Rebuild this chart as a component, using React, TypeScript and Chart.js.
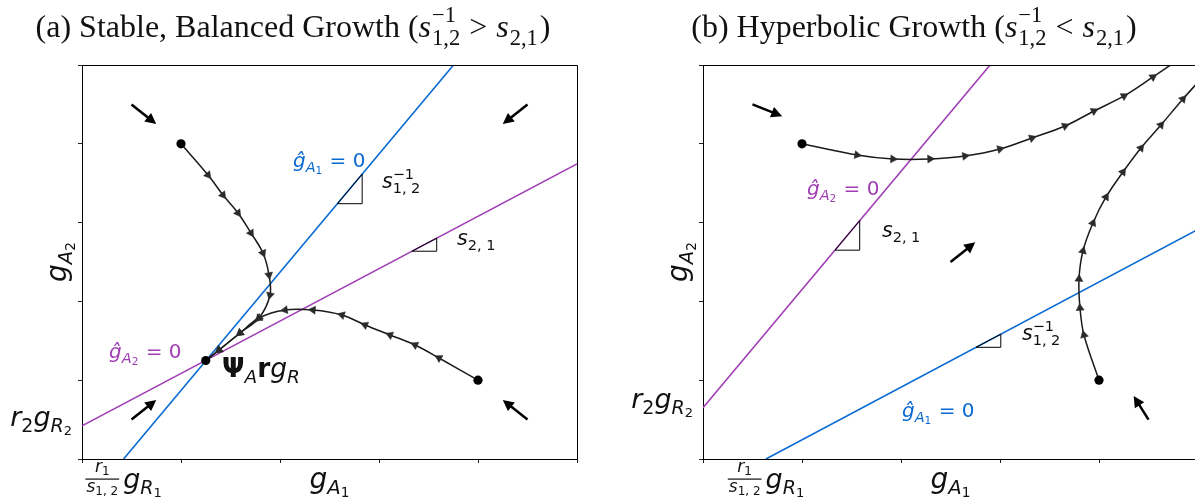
import React, { useEffect, useRef } from 'react';
import { Chart, registerables } from 'chart.js';
Chart.register(...registerables);

// ---------- axis ----------
const AXIS_MIN = 0;
const AXIS_MAX = 5;
const TICK_STEP = 1;

// ---------- panel (a) data ----------
const A_BLUE_X = [0.42, 3.753];
const A_BLUE_Y = [0, 5];
const A_PURPLE_X = [0, 5];
const A_PURPLE_Y = [0.42, 3.745];
const A_TRI_BLUE_X = [2.58, 2.83];
const A_TRI_BLUE_Y = [3.24, 3.615];
const A_TRI_PURPLE_X = [3.333, 3.583];
const A_TRI_PURPLE_Y = [2.637, 2.803];
const A_T1_X = [1.0, 1.273, 1.424, 1.576, 1.707, 1.828, 1.889, 1.899, 1.788, 1.596, 1.384, 1.25];
const A_T1_Y = [4.0, 3.604, 3.35, 3.122, 2.868, 2.614, 2.335, 2.081, 1.789, 1.599, 1.383, 1.25];
const A_T2_X = [4.0, 3.606, 3.364, 3.111, 2.859, 2.626, 2.333, 2.051, 1.788, 1.596, 1.384, 1.25];
const A_T2_Y = [1.0, 1.282, 1.447, 1.574, 1.701, 1.827, 1.891, 1.891, 1.789, 1.599, 1.383, 1.25];
const A_DOT_X = [1, 4, 1.25];
const A_DOT_Y = [4, 1, 1.25];
const A_ARROW_TAIL_X = [0.5, 4.5, 4.5, 0.5];
const A_ARROW_TAIL_Y = [4.5, 4.5, 0.5, 0.5];
const A_ARROW_HEAD_X = [0.75, 4.25, 4.25, 0.75];
const A_ARROW_HEAD_Y = [4.25, 4.25, 0.75, 0.75];

// ---------- panel (b) data ----------
const B_BLUE_X = [0.636, 5.1];
const B_BLUE_Y = [0, 2.982];
const B_PURPLE_X = [0, 2.9];
const B_PURPLE_Y = [0.65, 5.0];
const B_TRI_BLUE_X = [2.758, 3.008];
const B_TRI_BLUE_Y = [1.4175, 1.5845];
const B_TRI_PURPLE_X = [1.333, 1.583];
const B_TRI_PURPLE_Y = [2.65, 3.025];
const B_T1_X = [1.0, 1.556, 1.919, 2.293, 2.646, 3.0, 3.323, 3.657, 3.949, 4.253, 4.545, 4.92];
const B_T1_Y = [4.0, 3.858, 3.807, 3.807, 3.845, 3.934, 4.074, 4.226, 4.416, 4.607, 4.848, 5.17];
const B_T2_X = [4.0, 3.848, 3.808, 3.798, 3.838, 3.939, 4.071, 4.242, 4.424, 4.626, 4.848, 5.05];
const B_T2_Y = [1.0, 1.574, 1.916, 2.284, 2.64, 2.995, 3.325, 3.642, 3.947, 4.239, 4.569, 4.85];
const B_DOT_X = [1, 4];
const B_DOT_Y = [4, 1];
const B_ARROW_TAIL_X = [0.5, 2.5, 4.5];
const B_ARROW_TAIL_Y = [4.5, 2.5, 0.5];
const B_ARROW_HEAD_X = [0.8, 2.75, 4.35];
const B_ARROW_HEAD_Y = [4.35, 2.75, 0.8];

// ---------- styles ----------
const BLUE = '#0a6ad3';
const PURPLE = '#a03eb4';
const INK = '#111111';
const SANS = '"DejaVu Sans"';
const SERIF = '"Liberation Serif"';
const it = (s: number) => `italic ${s}px ${SANS}`;
const rm = (s: number) => `${s}px ${SANS}`;
const bf = (s: number) => `bold ${s}px ${SANS}`;
const sr = (s: number) => `${s}px ${SERIF}`;
const si = (s: number) => `italic ${s}px ${SERIF}`;

type Run = { t: string; f: string; dy?: number; hold?: boolean; gap?: number };

function layoutRuns(ctx: CanvasRenderingContext2D, runs: Run[]) {
  let cx = 0;
  let holdW = -1;
  const xs: number[] = [];
  for (const r of runs) {
    ctx.font = r.f;
    const w = ctx.measureText(r.t).width;
    xs.push(cx);
    if (r.hold) {
      holdW = w;
    } else {
      cx += Math.max(w, holdW >= 0 ? holdW : 0) + (r.gap || 0);
      holdW = -1;
    }
  }
  if (holdW >= 0) cx += holdW;
  return { xs, w: cx };
}

function drawRuns(ctx: CanvasRenderingContext2D, runs: Run[], x: number, y: number, align: string, color: string) {
  const { xs, w } = layoutRuns(ctx, runs);
  const x0 = align === 'center' ? x - w / 2 : align === 'right' ? x - w : x;
  ctx.fillStyle = color;
  ctx.textBaseline = 'alphabetic';
  ctx.textAlign = 'left';
  runs.forEach((r, i) => {
    ctx.font = r.f;
    ctx.fillText(r.t, x0 + xs[i], y + (r.dy || 0));
  });
  return w;
}

const pts = (xs: number[], ys: number[]) => xs.map((x, i) => ({ x, y: ys[i] }));

const gA = (idx: string): Run[] => [
  { t: 'g', f: it(28) },
  { t: 'A', f: it(19.6), dy: 6 },
  { t: idx, f: rm(13.7), dy: 9 },
];
const hatG = (idx: string): Run[] => [
  { t: 'ĝ', f: it(20) },
  { t: 'A', f: it(14.5), dy: 5 },
  { t: idx, f: rm(10.5), dy: 7, gap: 1 },
  { t: ' = 0', f: rm(20) },
];
const sInv: Run[] = [
  { t: 's', f: it(20.5) },
  { t: '−1', f: rm(14.5), dy: -9, hold: true },
  { t: '1, 2', f: rm(14.5), dy: 5 },
];
const s21: Run[] = [
  { t: 's', f: it(20.5) },
  { t: '2, 1', f: rm(14.5), dy: 5 },
];
const psiRun: Run[] = [
  { t: 'Ψ', f: bf(26.5) },
  { t: 'A', f: it(18.5), dy: 6 },
  { t: 'r', f: bf(26.5) },
  { t: 'g', f: it(26.5) },
  { t: 'R', f: it(18.5), dy: 6 },
];
const r2Run: Run[] = [
  { t: 'r', f: it(27) },
  { t: '2', f: rm(19), dy: 6 },
  { t: 'g', f: it(27) },
  { t: 'R', f: it(19), dy: 6 },
  { t: '2', f: rm(13), dy: 9 },
];
const titleRun = (head: string, rel: string): Run[] => [
  { t: head + ' (', f: sr(32) },
  { t: 's', f: si(32), gap: 1 },
  { t: '−1', f: sr(22.5), dy: -15, hold: true },
  { t: '1,2', f: sr(22.5), dy: 8, gap: 9 },
  { t: rel, f: sr(32), gap: 9 },
  { t: 's', f: si(32), gap: 1 },
  { t: '2,1', f: sr(22.5), dy: 8, gap: 2 },
  { t: ')', f: sr(32) },
];

function drawFrac(ctx: CanvasRenderingContext2D, cx: number, bottom: number) {
  const num: Run[] = [{ t: 'r', f: it(17) }, { t: '1', f: rm(12), dy: 3 }];
  const den: Run[] = [{ t: 's', f: it(17) }, { t: '1, 2', f: rm(12), dy: 3 }];
  const gl: Run[] = [{ t: 'g', f: it(27) }, { t: 'R', f: it(19), dy: 6 }, { t: '1', f: rm(13), dy: 9 }];
  const wn = layoutRuns(ctx, num).w;
  const wd = layoutRuns(ctx, den).w;
  const wg = layoutRuns(ctx, gl).w;
  const wb = Math.max(wn, wd) + 2;
  const total = wb + 4 + wg;
  const x0 = cx - total / 2;
  drawRuns(ctx, num, x0 + wb / 2, bottom + 13, 'center', INK);
  ctx.fillStyle = INK;
  ctx.fillRect(x0, bottom + 19.5, wb, 1.2);
  drawRuns(ctx, den, x0 + wb / 2, bottom + 33, 'center', INK);
  drawRuns(ctx, gl, x0 + wb + 4, bottom + 29, 'left', INK);
}

function drawArrow(ctx: CanvasRenderingContext2D, x1: number, y1: number, x2: number, y2: number) {
  const ang = Math.atan2(y2 - y1, x2 - x1);
  const hl = 11;
  const hw = 5.5;
  const bx = x2 - Math.cos(ang) * hl;
  const by = y2 - Math.sin(ang) * hl;
  ctx.strokeStyle = '#000';
  ctx.fillStyle = '#000';
  ctx.lineWidth = 2.5;
  ctx.beginPath();
  ctx.moveTo(x1, y1);
  ctx.lineTo(bx + Math.cos(ang) * 2, by + Math.sin(ang) * 2);
  ctx.stroke();
  ctx.beginPath();
  ctx.moveTo(x2, y2);
  ctx.lineTo(bx - Math.sin(ang) * hw, by + Math.cos(ang) * hw);
  ctx.lineTo(bx + Math.sin(ang) * hw, by - Math.cos(ang) * hw);
  ctx.closePath();
  ctx.fill();
}

type Label = { x: number; y: number; runs: Run[]; color: string };

type Spec = {
  lines: { x: number[]; y: number[]; color: string }[];
  tris: { x: number[]; y: number[] }[];
  trajs: { x: number[]; y: number[] }[];
  dots: { x: number[]; y: number[] };
  arrows: { tx: number[]; ty: number[]; hx: number[]; hy: number[] };
  labels: Label[];
  title: Run[];
  titleX: number;
  yLabelAt: number;
  fracAt: number;
  axisLeft: number;
  padRight: number;
};

const SPEC_A: Spec = {
  lines: [
    { x: A_BLUE_X, y: A_BLUE_Y, color: BLUE },
    { x: A_PURPLE_X, y: A_PURPLE_Y, color: PURPLE },
  ],
  tris: [
    { x: A_TRI_BLUE_X, y: A_TRI_BLUE_Y },
    { x: A_TRI_PURPLE_X, y: A_TRI_PURPLE_Y },
  ],
  trajs: [
    { x: A_T1_X, y: A_T1_Y },
    { x: A_T2_X, y: A_T2_Y },
  ],
  dots: { x: A_DOT_X, y: A_DOT_Y },
  arrows: { tx: A_ARROW_TAIL_X, ty: A_ARROW_TAIL_Y, hx: A_ARROW_HEAD_X, hy: A_ARROW_HEAD_Y },
  labels: [
    { x: 2.131, y: 3.706, runs: hatG('1'), color: BLUE },
    { x: 3.03, y: 3.439, runs: sInv, color: INK },
    { x: 3.788, y: 2.716, runs: s21, color: INK },
    { x: 0.273, y: 1.28, runs: hatG('2'), color: PURPLE },
    { x: 1.414, y: 1.04, runs: psiRun, color: INK },
  ],
  title: titleRun('(a) Stable, Balanced Growth', '>'),
  titleX: 293,
  yLabelAt: A_PURPLE_Y[0],
  fracAt: A_BLUE_X[0],
  axisLeft: 82,
  padRight: 23,
};

const SPEC_B: Spec = {
  lines: [
    { x: B_BLUE_X, y: B_BLUE_Y, color: BLUE },
    { x: B_PURPLE_X, y: B_PURPLE_Y, color: PURPLE },
  ],
  tris: [
    { x: B_TRI_BLUE_X, y: B_TRI_BLUE_Y },
    { x: B_TRI_PURPLE_X, y: B_TRI_PURPLE_Y },
  ],
  trajs: [
    { x: B_T1_X, y: B_T1_Y },
    { x: B_T2_X, y: B_T2_Y },
  ],
  dots: { x: B_DOT_X, y: B_DOT_Y },
  arrows: { tx: B_ARROW_TAIL_X, ty: B_ARROW_TAIL_Y, hx: B_ARROW_HEAD_X, hy: B_ARROW_HEAD_Y },
  labels: [
    { x: 1.05, y: 3.35, runs: hatG('2'), color: PURPLE },
    { x: 1.808, y: 2.817, runs: s21, color: INK },
    { x: 3.222, y: 1.51, runs: sInv, color: INK },
    { x: 2.01, y: 0.533, runs: hatG('1'), color: BLUE },
  ],
  title: titleRun('(b) Hyperbolic Growth', '<'),
  titleX: 314,
  yLabelAt: B_PURPLE_Y[0],
  fracAt: B_BLUE_X[0],
  axisLeft: 103,
  padRight: 22,
};

function rotationFor(traj: { x: number; y: number }[]) {
  return (c: any) => {
    if (c.dataIndex == null) return 0;
    const i = c.dataIndex + 1;
    const sx = c.chart.scales.x;
    const sy = c.chart.scales.y;
    const a = traj[i - 1];
    const b = traj[i + 1];
    const dx = sx.getPixelForValue(b.x) - sx.getPixelForValue(a.x);
    const dy = sy.getPixelForValue(b.y) - sy.getPixelForValue(a.y);
    return (Math.atan2(dy, dx) * 180) / Math.PI + 90;
  };
}

function buildConfig(spec: Spec): any {
  const datasets: any[] = [];
  spec.lines.forEach((l) => {
    datasets.push({
      data: pts(l.x, l.y), showLine: true, borderColor: l.color, borderWidth: 1.6,
      pointRadius: 0, tension: 0, order: 6,
    });
  });
  spec.tris.forEach((t) => {
    datasets.push({
      data: [
        { x: t.x[0], y: t.y[0] }, { x: t.x[1], y: t.y[0] },
        { x: t.x[1], y: t.y[1] }, { x: t.x[0], y: t.y[0] },
      ],
      showLine: true, borderColor: '#000', borderWidth: 1, pointRadius: 0, tension: 0, order: 5,
    });
  });
  spec.trajs.forEach((tr) => {
    const p = pts(tr.x, tr.y);
    datasets.push({
      data: p, showLine: true, borderColor: '#1a1a1a', borderWidth: 1.5, pointRadius: 0,
      tension: 0.35, order: 3,
    });
    datasets.push({
      data: p.slice(1, -1), showLine: false, pointStyle: 'triangle', pointRadius: 4.6,
      pointBackgroundColor: '#2a2a2a', pointBorderColor: '#2a2a2a', pointBorderWidth: 0.5,
      pointRotation: rotationFor(p), order: 2,
    });
  });
  datasets.push({
    data: pts(spec.dots.x, spec.dots.y), showLine: false, pointStyle: 'circle', pointRadius: 4.6,
    pointBackgroundColor: '#000', pointBorderColor: '#000', pointBorderWidth: 0, order: 1,
  });

  const panelPlugin = {
    id: 'panelDecor',
    afterDatasetsDraw(chart: any) {
      const ctx = chart.ctx as CanvasRenderingContext2D;
      const sx = chart.scales.x;
      const sy = chart.scales.y;
      const a = spec.arrows;
      ctx.save();
      a.tx.forEach((_, i) => {
        drawArrow(ctx, sx.getPixelForValue(a.tx[i]), sy.getPixelForValue(a.ty[i]),
          sx.getPixelForValue(a.hx[i]), sy.getPixelForValue(a.hy[i]));
      });
      ctx.restore();
    },
    afterDraw(chart: any) {
      const ctx = chart.ctx as CanvasRenderingContext2D;
      const { left, right, top, bottom } = chart.chartArea;
      const sx = chart.scales.x;
      const sy = chart.scales.y;
      ctx.save();
      const al = (p: number) => Math.round(p - 0.5) + 0.5;
      ctx.strokeStyle = '#000';
      ctx.lineWidth = 1;
      ctx.beginPath();
      ctx.moveTo(al(left), al(top));
      ctx.lineTo(al(right), al(top));
      ctx.lineTo(al(right), al(bottom));
      ctx.stroke();
      drawRuns(ctx, spec.title, spec.titleX, 37, 'center', INK);
      drawRuns(ctx, gA('1'), (left + right) / 2, bottom + 29, 'center', INK);
      ctx.save();
      ctx.translate(left - 16, (top + bottom) / 2);
      ctx.rotate(-Math.PI / 2);
      drawRuns(ctx, gA('2'), 0, 0, 'center', INK);
      ctx.restore();
      drawRuns(ctx, r2Run, left - 10, sy.getPixelForValue(spec.yLabelAt), 'right', INK);
      drawFrac(ctx, sx.getPixelForValue(spec.fracAt), bottom);
      spec.labels.forEach((l) => {
        drawRuns(ctx, l.runs, sx.getPixelForValue(l.x), sy.getPixelForValue(l.y), 'left', l.color);
      });
      ctx.restore();
    },
  };

  const axisCommon = {
    type: 'linear',
    min: AXIS_MIN,
    max: AXIS_MAX,
    ticks: { display: false, stepSize: TICK_STEP },
    grid: { drawOnChartArea: false, drawTicks: true, tickLength: 4, color: '#222', lineWidth: 1 },
    border: { display: true, color: '#000', width: 1 },
  };

  return {
    type: 'scatter',
    data: { datasets },
    options: {
      responsive: true,
      maintainAspectRatio: false,
      animation: false,
      devicePixelRatio: 1,
      events: [],
      layout: { padding: { left: 0, top: 65, right: spec.padRight, bottom: 0 } },
      plugins: { legend: { display: false }, tooltip: { enabled: false }, title: { display: false } },
      scales: {
        x: { ...axisCommon, position: 'bottom', afterFit: (s: any) => { s.height = 45; } },
        y: { ...axisCommon, position: 'left', afterFit: (s: any) => { s.width = spec.axisLeft; } },
      },
    },
    plugins: [panelPlugin],
  };
}

function Panel({ spec, left, width }: { spec: Spec; left: number; width: number }) {
  const ref = useRef<HTMLCanvasElement>(null);
  useEffect(() => {
    const chart = new Chart(ref.current as HTMLCanvasElement, buildConfig(spec));
    return () => chart.destroy();
  }, [spec]);
  return (
    <div style={{ position: 'absolute', left, top: 0, width, height: 504 }}>
      <canvas ref={ref} />
    </div>
  );
}

export default function App() {
  return (
    <div style={{ position: 'fixed', left: 0, top: 0, width: 1195, height: 504, overflow: 'hidden', background: '#fff' }}>
      <Panel spec={SPEC_A} left={0} width={600} />
      <Panel spec={SPEC_B} left={600} width={620} />
    </div>
  );
}
